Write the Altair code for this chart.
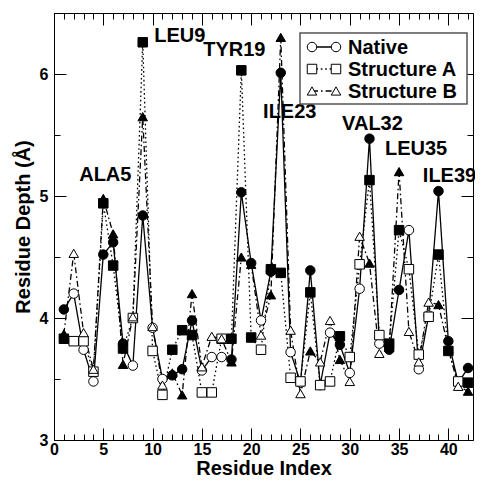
import altair as alt
import pandas as pd

F = "Liberation Sans"

residues = list(range(1, 43))
native = [4.07, 4.20, 3.74, 3.48, 4.52, 4.62, 3.79, 3.61, 4.84, 3.92,
          3.50, 3.53, 3.58, 3.98, 3.57, 3.68, 3.68, 3.66, 5.03, 4.45,
          3.98, 4.38, 6.01, 3.72, 3.47, 4.39, 3.45, 3.88, 3.78, 3.55,
          4.24, 5.47, 3.79, 3.74, 4.23, 4.72, 3.58, 4.02, 5.04, 3.81,
          3.47, 3.59]
struct_a = [3.83, 3.81, 3.81, 3.56, 4.94, 4.43, 3.75, 4.00, 6.26, 3.73,
            3.37, 3.74, 3.90, 3.86, 3.39, 3.39, 3.83, 3.83, 6.03, 3.84,
            3.74, 4.40, 4.37, 3.51, 3.48, 4.21, 3.45, 3.48, 3.85, 3.68,
            4.44, 5.13, 3.86, 3.79, 4.72, 4.40, 3.70, 4.01, 4.52, 3.73,
            3.48, 3.47]
struct_b = [3.87, 4.53, 3.88, 3.58, 4.98, 4.69, 3.62, 4.01, 5.65, 3.93,
            3.45, 3.55, 3.37, 4.20, 3.60, 3.85, 3.83, 3.64, 4.50, 4.44,
            3.86, 4.19, 6.30, 3.90, 3.38, 3.73, 3.64, 3.98, 3.66, 3.48,
            4.67, 4.45, 3.71, 3.76, 5.20, 3.89, 3.64, 4.13, 4.11, 3.75,
            3.44, 3.40]
filled = [1, 0, 0, 0, 1, 1, 1, 0, 1, 0, 0, 1, 1, 1, 0, 0, 0, 1, 1, 1, 0,
          1, 1, 0, 0, 1, 0, 0, 1, 0, 0, 1, 0, 1, 1, 0, 0, 0, 1, 1, 0, 1]

series_names = ["Native", "Structure A", "Structure B"]
shapes = ["circle", "square", "triangle-up"]
dashes = [[1, 0], [1.6, 2.8], [6, 3, 1.6, 3]]

label_text = ["ALA5", "LEU9", "TYR19", "ILE23", "VAL32", "LEU35", "ILE39"]
label_res = [5, 9, 19, 23, 32, 35, 39]
label_dx = [2, 37, -7, 9, 3, 17, 11]
label_dy = [-23, -6, -20, 75, -15, -23, -15]

all_series = [native, struct_a, struct_b]
rows = []
for si, (name, vals) in enumerate(zip(series_names, all_series)):
    for r, v, f in zip(residues, vals, filled):
        rows.append({"residue": r, "value": v, "series": name, "sidx": si,
                     "fillc": "black" if f else "white"})
df = pd.DataFrame(rows)

xs = alt.Scale(domain=[0, 42.5], nice=False, zero=False)
ys = alt.Scale(domain=[3, 6.5], nice=False, zero=False)

dash_scale = alt.Scale(domain=series_names, range=dashes)
shape_scale = alt.Scale(domain=series_names, range=shapes)

lines = alt.Chart(df).mark_line(stroke="black", strokeWidth=1.3).encode(
    x=alt.X("residue:Q", scale=xs, axis=alt.Axis(
        values=list(range(0, 45, 5)), format="d", ticks=False, tickSize=0,
        domain=False, grid=False, labelFontSize=16, labelFontWeight="bold",
        labelFont=F, labelColor="black", labelPadding=1, labelFlush=False,
        title="Residue Index", titleFontSize=20, titleFontWeight="bold",
        titleFont=F, titleColor="black", titlePadding=1)),
    y=alt.Y("value:Q", scale=ys, axis=alt.Axis(
        values=[3, 4, 5, 6], format="d", ticks=False, tickSize=0,
        domain=False, grid=False, labelFontSize=16, labelFontWeight="bold",
        labelFont=F, labelColor="black", labelPadding=6, labelFlush=False,
        title="Residue Depth (Å)", titleFontSize=20, titleFontWeight="bold",
        titleFont=F, titleColor="black", titlePadding=6)),
    detail="series:N",
    strokeDash=alt.StrokeDash("series:N", scale=dash_scale, legend=None),
    order="residue:Q",
)

points = alt.Chart(df).mark_point(filled=True, stroke="black", strokeWidth=1, size=90, opacity=1).encode(
    x=alt.X("residue:Q", scale=xs, axis=None),
    y=alt.Y("value:Q", scale=ys, axis=None),
    shape=alt.Shape("series:N", scale=shape_scale, legend=None),
    fill=alt.Fill("fillc:N", scale=None),
    order=alt.Order("sidx:Q"),
)

layers = [lines, points]

# residue labels anchored at the highest of the three values
for t, r, dx, dy in zip(label_text, label_res, label_dx, label_dy):
    top = max(native[r - 1], struct_a[r - 1], struct_b[r - 1])
    ldf = pd.DataFrame({"residue": [r], "value": [top], "label": [t]})
    layers.append(alt.Chart(ldf).mark_text(
        dx=dx, dy=dy, align="center", baseline="middle", fontSize=20,
        fontWeight="bold", font=F, color="black").encode(
        x=alt.X("residue:Q", scale=xs, axis=None),
        y=alt.Y("value:Q", scale=ys, axis=None),
        text="label:N"))

# inward tick axes
def tick_axis(orient, values, size):
    return alt.Axis(orient=orient, values=values, labels=False, domain=False,
                    grid=False, ticks=True, tickSize=size, offset=-size,
                    tickColor="black", tickWidth=1, title=None)

x_major = list(range(0, 45, 5))
x_minor = [v for v in range(0, 43) if v % 5]
y_major = [3, 4, 5, 6]
y_minor = [3.5, 4.5, 5.5, 6.5]

for xo, yo, xv, yv, sz in [("bottom", "left", x_major, y_major, 12),
                           ("bottom", "left", x_minor, y_minor, 6),
                           ("top", "right", x_major, y_major, 12),
                           ("top", "right", x_minor, y_minor, 6)]:
    layers.append(alt.Chart(df).mark_point(opacity=0).encode(
        x=alt.X("residue:Q", scale=xs, axis=tick_axis(xo, xv, sz)),
        y=alt.Y("value:Q", scale=ys, axis=tick_axis(yo, yv, sz))))

# legend
one = pd.DataFrame({"k": [0]})
layers.append(alt.Chart(one).mark_rect(fill="white", stroke="#555", strokeWidth=1.5).encode(
    x=alt.value(246), x2=alt.value(413), y=alt.value(20), y2=alt.value(91)))
leg_y = [34, 56, 78]
for name, shp, dsh, yy in zip(series_names, shapes, dashes, leg_y):
    layers.append(alt.Chart(one).mark_rule(stroke="black", strokeWidth=1.3, strokeDash=dsh).encode(
        x=alt.value(258), x2=alt.value(282), y=alt.value(yy)))
    for xx in (258, 282):
        layers.append(alt.Chart(one).mark_point(shape=shp, filled=True, fill="white", stroke="black",
                                                strokeWidth=1, size=90, opacity=1).encode(
            x=alt.value(xx), y=alt.value(yy)))
    layers.append(alt.Chart(one).mark_text(align="left", baseline="middle", fontSize=20,
                                           fontWeight="bold", font=F, color="black").encode(
        x=alt.value(294), y=alt.value(yy + 1), text=alt.value(name)))

chart = alt.layer(*layers).resolve_axis(x="independent", y="independent").properties(
    width=467, height=470,
    autosize=alt.AutoSizeParams(type="fit", contains="padding"),
    padding={"left": 5, "top": 4, "right": 0, "bottom": 0},
).configure_view(stroke="black", strokeWidth=1)

chart.save("out.html", embed_options={"renderer": "svg", "actions": False})
